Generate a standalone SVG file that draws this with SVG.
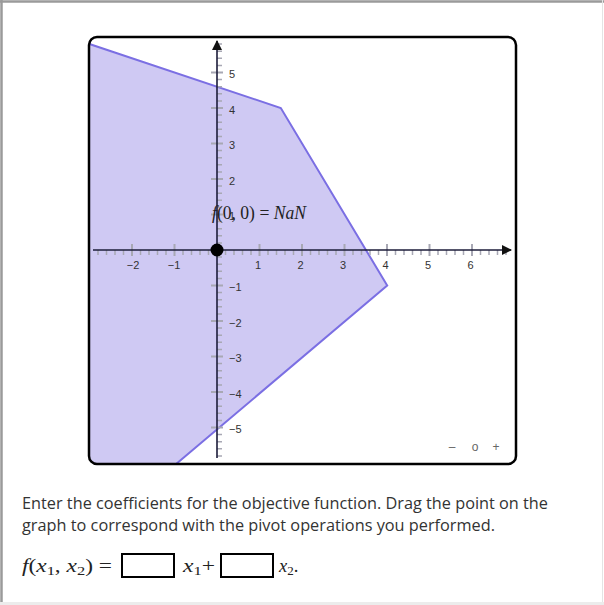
<svg xmlns="http://www.w3.org/2000/svg" width="604" height="605" viewBox="0 0 604 605">
<style>
.tl{font-family:"Liberation Sans",Arial,sans-serif;font-size:11px;fill:#333}
.maj{stroke:#a8a8b4;stroke-width:2}
.min{stroke:#a8a8b4;stroke-width:1.5}
.body{font-family:"Open Sans",sans-serif;font-size:15.5px;fill:#333}
.m{font-family:"Liberation Serif","DejaVu Serif",serif;font-size:18.5px;fill:#222}
.mi{font-style:italic}
.ctl{font-family:"Liberation Sans",Arial,sans-serif;font-size:12px;fill:#666}
</style>
<defs>
<clipPath id="boxclip"><rect x="89" y="37" width="427" height="427" rx="8"/></clipPath>
<marker id="arr" viewBox="0 0 10 10" refX="9" refY="5" markerWidth="10" markerHeight="10" markerUnits="userSpaceOnUse" orient="auto"><path d="M0,0 L10,5 L0,10 z" fill="#111"/></marker>
</defs>
<rect x="0" y="0" width="604" height="605" fill="#fff"/>
<g id="page-border" fill="none">
<line x1="0" y1="1.5" x2="604" y2="1.5" stroke="#9a9a9a" stroke-width="2.5"/>
<line x1="1.5" y1="0" x2="1.5" y2="604" stroke="#9a9a9a" stroke-width="2.5"/>
<line x1="602.5" y1="0" x2="602.5" y2="604" stroke="#e4e4e4" stroke-width="1"/>
<line x1="0" y1="603.5" x2="604" y2="603.5" stroke="#ececec" stroke-width="3"/>
</g>
<g id="region" clip-path="url(#boxclip)">
<polygon points="85,42.5 280.8,108 387.2,285.5 169,470 85,470" fill="#cfc9f3" stroke="none"/>
<polyline points="85,42.5 280.8,108 387.2,285.5 169,470" fill="none" stroke="#7b6fe3" stroke-width="2"/>
</g>
<g id="ticks">
<path class="min" d="M98.0,250v5M106.5,250v5M115.0,250v5M123.5,250v5M140.5,250v5M149.0,250v5M157.5,250v5M166.0,250v5M183.0,250v5M191.5,250v5M200.0,250v5M208.5,250v5M225.5,250v5M234.0,250v5M242.5,250v5M251.0,250v5M268.0,250v5M276.5,250v5M285.0,250v5M293.5,250v5M310.5,250v5M319.0,250v5M327.5,250v5M336.0,250v5M353.0,250v5M361.5,250v5M370.0,250v5M378.5,250v5M395.5,250v5M404.0,250v5M412.5,250v5M421.0,250v5M438.0,250v5M446.5,250v5M455.0,250v5M463.5,250v5M480.5,250v5M489.0,250v5M497.5,250v5M506.0,250v5"/>
<path class="maj" d="M132,244v12M174.5,244v12M259.5,244v12M302,244v12M344.5,244v12M387,244v12M429.5,244v12M472,244v12"/>
<path class="min" d="M217,44.1h5M217,51.2h5M217,58.3h5M217,65.4h5M217,79.6h5M217,86.7h5M217,93.8h5M217,100.9h5M217,115.1h5M217,122.2h5M217,129.3h5M217,136.4h5M217,150.6h5M217,157.7h5M217,164.8h5M217,171.9h5M217,186.1h5M217,193.2h5M217,200.3h5M217,207.4h5M217,221.6h5M217,228.7h5M217,235.8h5M217,242.9h5M217,257.1h5M217,264.2h5M217,271.3h5M217,278.4h5M217,292.6h5M217,299.7h5M217,306.8h5M217,313.9h5M217,328.1h5M217,335.2h5M217,342.3h5M217,349.4h5M217,363.6h5M217,370.7h5M217,377.8h5M217,384.9h5M217,399.1h5M217,406.2h5M217,413.3h5M217,420.4h5M217,434.6h5M217,441.7h5M217,448.8h5M217,455.9h5"/>
<path class="maj" d="M211,72.5h12M211,108h12M211,143.5h12M211,179h12M211,214.5h12M211,285.5h12M211,321h12M211,356.5h12M211,392h12M211,427.5h12"/>
</g>
<g id="axes" stroke="#1c1c3a" stroke-width="1.6" fill="none">
<line x1="93" y1="250" x2="511" y2="250" marker-end="url(#arr)"/>
<line x1="217" y1="458" x2="217" y2="41" marker-end="url(#arr)"/>
</g>
<g id="tick-labels">
<text class="tl" x="133" y="269" text-anchor="middle">−2</text>
<text class="tl" x="174" y="269" text-anchor="middle">−1</text>
<text class="tl" x="258" y="269" text-anchor="middle">1</text>
<text class="tl" x="300.5" y="269" text-anchor="middle">2</text>
<text class="tl" x="343" y="269" text-anchor="middle">3</text>
<text class="tl" x="385.5" y="269" text-anchor="middle">4</text>
<text class="tl" x="428" y="269" text-anchor="middle">5</text>
<text class="tl" x="470.5" y="269" text-anchor="middle">6</text>
<text class="tl" x="229" y="78">5</text>
<text class="tl" x="229" y="113.5">4</text>
<text class="tl" x="229" y="149">3</text>
<text class="tl" x="229" y="184.5">2</text>
<text class="tl" x="229" y="220">1</text>
<text class="tl" x="229" y="291">−1</text>
<text class="tl" x="229" y="326.5">−2</text>
<text class="tl" x="229" y="362">−3</text>
<text class="tl" x="229" y="397.5">−4</text>
<text class="tl" x="229" y="433">−5</text>
</g>
<g id="point-label">
<text class="m" x="212" y="219" font-size="16" textLength="94" lengthAdjust="spacingAndGlyphs"><tspan class="mi">f</tspan>(0, 0) = <tspan class="mi">NaN</tspan></text>
</g>
<g id="point">
<circle cx="217" cy="250" r="6.5" fill="#000"/>
</g>
<g id="frame">
<rect x="89" y="37" width="427" height="427" rx="8" fill="none" stroke="#000" stroke-width="2.5"/>
</g>
<g id="zoom-controls">
<text class="ctl" x="452" y="451" text-anchor="middle">–</text>
<text class="ctl" x="475" y="451" text-anchor="middle">o</text>
<text class="ctl" x="496" y="451" text-anchor="middle">+</text>
</g>
<g id="instructions">
<text class="body" x="22" y="509" textLength="526" lengthAdjust="spacingAndGlyphs">Enter the coefficients for the objective function. Drag the point on the</text>
<text class="body" x="22" y="531" textLength="473" lengthAdjust="spacingAndGlyphs">graph to correspond with the pivot operations you performed.</text>
</g>
<g id="formula">
<text class="m" x="22" y="572" textLength="90" lengthAdjust="spacingAndGlyphs"><tspan class="mi">f</tspan>(<tspan class="mi">x</tspan><tspan font-size="13" dy="3">1</tspan><tspan dy="-3">, </tspan><tspan class="mi">x</tspan><tspan font-size="13" dy="3">2</tspan><tspan dy="-3">) =</tspan></text>
<rect x="122" y="554" width="52" height="23" fill="#fff" stroke="#000" stroke-width="2"/>
<text class="m" x="183" y="572" textLength="32" lengthAdjust="spacingAndGlyphs"><tspan class="mi">x</tspan><tspan font-size="13" dy="3">1</tspan><tspan dy="-3">+</tspan></text>
<rect x="221" y="554" width="52" height="23" fill="#fff" stroke="#000" stroke-width="2"/>
<text class="m" x="279" y="572"><tspan class="mi">x</tspan><tspan font-size="13" dy="3">2</tspan><tspan dy="-3">.</tspan></text>
</g>
</svg>
